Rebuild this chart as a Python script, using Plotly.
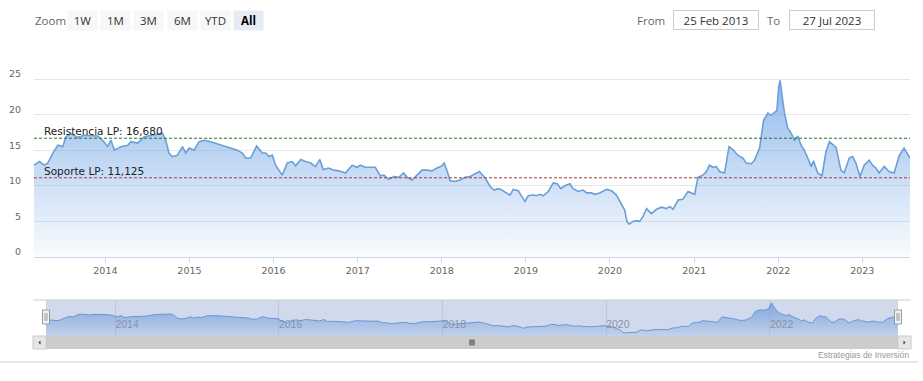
import plotly.graph_objects as go

W, H = 923, 381

# ---------------- data ----------------
dates = [
    "2013-02-25", "2013-03-20", "2013-04-11", "2013-04-26", "2013-05-18", "2013-06-08", "2013-06-30",
    "2013-07-14", "2013-08-05", "2013-09-03", "2013-10-02", "2013-10-30", "2013-11-28", "2013-12-20",
    "2014-01-11", "2014-01-25", "2014-02-09", "2014-03-09", "2014-04-08", "2014-04-22", "2014-05-21",
    "2014-06-19", "2014-07-17", "2014-08-15", "2014-09-06", "2014-09-20", "2014-10-04", "2014-10-19",
    "2014-11-10", "2014-12-02", "2014-12-16", "2014-12-31", "2015-01-21", "2015-02-12", "2015-03-05",
    "2015-04-03", "2015-05-02", "2015-05-31", "2015-06-29", "2015-07-28", "2015-08-19", "2015-09-02",
    "2015-09-24", "2015-10-05", "2015-10-20", "2015-11-13", "2015-11-28", "2015-12-12", "2015-12-27",
    "2016-01-10", "2016-02-08", "2016-03-01", "2016-03-23", "2016-04-06", "2016-04-28", "2016-05-19",
    "2016-06-10", "2016-07-02", "2016-07-20", "2016-08-04", "2016-08-28", "2016-09-19", "2016-10-11",
    "2016-11-08", "2016-12-08", "2016-12-29", "2017-01-12", "2017-02-03", "2017-02-25", "2017-03-18",
    "2017-04-09", "2017-04-24", "2017-05-15", "2017-06-06", "2017-06-28", "2017-07-19", "2017-08-03",
    "2017-08-25", "2017-09-15", "2017-10-07", "2017-10-28", "2017-11-19", "2017-12-11", "2018-01-01",
    "2018-01-11", "2018-01-23", "2018-02-06", "2018-02-28", "2018-03-21", "2018-04-12", "2018-05-04",
    "2018-05-26", "2018-06-13", "2018-07-08", "2018-07-30", "2018-08-16", "2018-09-04", "2018-09-18",
    "2018-10-10", "2018-10-24", "2018-11-07", "2018-11-29", "2018-12-20", "2018-12-28", "2019-01-11",
    "2019-02-02", "2019-02-16", "2019-03-03", "2019-03-17", "2019-04-08", "2019-04-30", "2019-05-17",
    "2019-06-01", "2019-06-19", "2019-07-11", "2019-07-25", "2019-08-16", "2019-09-07", "2019-09-21",
    "2019-10-13", "2019-10-27", "2019-11-18", "2019-12-17", "2020-01-08", "2020-01-29", "2020-02-20",
    "2020-03-05", "2020-03-15", "2020-03-24", "2020-04-10", "2020-04-25", "2020-05-09", "2020-05-24",
    "2020-06-08", "2020-06-29", "2020-07-21", "2020-08-12", "2020-09-03", "2020-09-17", "2020-10-01",
    "2020-10-23", "2020-11-13", "2020-12-05", "2020-12-20", "2021-01-03", "2021-01-17", "2021-02-08",
    "2021-02-23", "2021-03-08", "2021-03-23", "2021-04-07", "2021-04-21", "2021-05-13", "2021-06-01",
    "2021-06-18", "2021-07-09", "2021-07-31", "2021-08-15", "2021-09-06", "2021-09-20", "2021-10-12",
    "2021-10-29", "2021-11-17", "2021-12-01", "2021-12-16", "2021-12-26", "2022-01-03", "2022-01-09",
    "2022-01-18", "2022-01-28", "2022-02-11", "2022-02-26", "2022-03-12", "2022-03-27", "2022-04-10",
    "2022-04-24", "2022-05-09", "2022-05-24", "2022-06-03", "2022-06-21", "2022-07-10", "2022-07-27",
    "2022-08-11", "2022-08-28", "2022-09-09", "2022-09-30", "2022-10-14", "2022-11-05", "2022-11-20",
    "2022-12-04", "2022-12-22", "2023-01-09", "2023-01-31", "2023-02-14", "2023-03-01", "2023-03-15",
    "2023-04-06", "2023-04-27", "2023-05-19", "2023-06-10", "2023-07-01", "2023-07-27",
]
values = [
    12.9, 13.4, 12.9, 13.2, 14.6, 15.7, 15.5,
    16.9, 17.3, 16.8, 17.1, 17.1, 17.0, 16.4,
    15.5, 16.4, 15.0, 15.5, 15.7, 16.2, 16.0,
    16.9, 17.1, 17.3, 17.4, 16.4, 14.6, 14.1,
    14.3, 15.5, 14.6, 15.3, 15.0, 16.2, 16.4,
    16.2, 15.9, 15.5, 15.3, 15.0, 14.6, 13.9,
    13.9, 14.6, 15.6, 14.6, 14.6, 14.1, 14.3,
    12.9, 11.5, 13.2, 13.4, 12.8, 13.7, 13.4,
    13.2, 12.7, 13.7, 12.3, 12.5, 12.2, 12.1,
    11.8, 12.9, 12.6, 12.9, 12.6, 12.6, 12.6,
    11.4, 11.5, 10.9, 11.3, 11.2, 11.8, 11.2,
    10.8, 11.5, 12.2, 12.2, 12.1, 12.5, 12.8,
    13.2, 12.2, 10.7, 10.6, 10.8, 11.2, 11.3,
    11.7, 12.0, 11.1, 9.9, 9.4, 9.6, 9.4,
    9.0, 8.7, 9.5, 9.3, 8.2, 7.8, 8.6,
    8.7, 8.6, 8.8, 8.6, 9.2, 10.4, 10.3,
    9.6, 10.0, 10.3, 9.6, 9.2, 9.4, 9.0,
    9.0, 8.8, 9.0, 9.5, 9.3, 8.7, 7.5,
    6.6, 5.0, 4.6, 5.0, 5.1, 5.0, 5.7,
    6.8, 6.1, 6.7, 7.0, 6.8, 7.1, 6.7,
    8.0, 8.1, 9.2, 9.0, 8.8, 11.2, 11.5,
    12.0, 12.9, 12.6, 12.7, 12.0, 11.8, 15.5,
    15.1, 14.3, 13.9, 13.2, 13.1, 13.6, 15.3,
    19.2, 20.2, 19.9, 20.3, 20.6, 23.9, 24.8,
    22.5, 20.2, 18.1, 17.4, 16.4, 17.0, 15.7,
    15.0, 13.9, 12.7, 13.5, 11.8, 11.4, 14.8,
    16.2, 15.7, 15.4, 12.2, 11.8, 13.9, 14.1,
    13.2, 11.3, 12.9, 13.6, 12.9, 12.5, 11.8,
    12.7, 12.0, 11.8, 14.2, 15.3, 13.9,
]

RESISTENCIA = 16.680
SOPORTE = 11.125
resistencia_label = "Resistencia LP: 16,680"
soporte_label = "Soporte LP: 11,125"

y_tickvals = [0, 5, 10, 15, 20, 25, 30]
y_ticktext = ["0", "5", "10", "15", "20", "25", ""]

zoom_buttons = ["1W", "1M", "3M", "6M", "YTD", "All"]
from_text = "25 Feb 2013"
to_text = "27 Jul 2023"
credits_text = "Estrategias de Inversión"

# ---------------- helpers (pixel -> paper) ----------------
def px(x):
    return x / W

def py(y):
    return 1 - y / H

LINE = "#6a9fd8"
FILLSCALE = [[0, "rgba(124,172,232,0.04)"], [1, "rgba(124,172,232,1.0)"]]

fig = go.Figure()

fig.add_trace(go.Scatter(
    x=dates, y=values, mode="lines",
    line=dict(color=LINE, width=1.6),
    fill="tozeroy",
    fillgradient=dict(type="vertical", colorscale=FILLSCALE, start=0, stop=30),
    xaxis="x", yaxis="y", hoverinfo="skip", showlegend=False,
))

fig.add_trace(go.Scatter(
    x=dates, y=values, mode="lines",
    line=dict(color=LINE, width=1),
    fill="tozeroy",
    fillgradient=dict(type="vertical", colorscale=[[0, "rgba(124,172,232,0.15)"], [1, "rgba(124,172,232,0.95)"]], start=2.6, stop=26.8),
    xaxis="x2", yaxis="y2", hoverinfo="skip", showlegend=False,
))

AX_FONT = dict(family="DejaVu Sans", size=9.5, color="#666666")

fig.update_layout(
    width=W, height=H, autosize=False,
    margin=dict(l=0, r=0, t=0, b=0, pad=0, autoexpand=False),
    paper_bgcolor="white", plot_bgcolor="rgba(0,0,0,0)",
    showlegend=False,
    xaxis=dict(
        domain=[px(34), px(910)],
        range=[dates[0], dates[-1]],
        type="date",
        tick0="2014-01-01", dtick="M12", tickformat="%Y",
        showgrid=False, zeroline=False,
        showline=True, linecolor="#ccd6eb", linewidth=1,
        ticks="outside", ticklen=5, tickcolor="#ccd6eb",
        tickfont=AX_FONT, automargin=False,
        anchor="y",
    ),
    yaxis=dict(
        domain=[py(257), py(43.4)],
        range=[0, 30],
        tickvals=y_tickvals, ticktext=y_ticktext,
        showgrid=True, gridcolor="#e6e6e6", gridwidth=1,
        zeroline=False, showline=False,
        tickfont=AX_FONT,
        ticklabelshift=-5,
        ticklabelstandoff=12, automargin=False,
        anchor="x",
    ),
    xaxis2=dict(
        domain=[px(46), px(898)],
        range=[dates[0], dates[-1]],
        type="date",
        tick0="2014-01-01", dtick="M24", tickformat="%Y",
        showgrid=True, gridcolor="#e6e6e6",
        zeroline=False, showline=False,
        ticks="", ticklabelposition="inside right",
        tickfont=dict(family="Liberation Sans", size=10.5, color="#999999"),
        automargin=False,
        anchor="y2",
    ),
    yaxis2=dict(
        domain=[py(336), py(300)],
        range=[2.6, 26.8],
        showgrid=False, zeroline=False, showline=False,
        showticklabels=False, ticks="", automargin=False,
        anchor="x2",
    ),
)

shapes = []
# plot lines
shapes.append(dict(type="line", xref="x domain", yref="y", x0=0, x1=1, y0=RESISTENCIA, y1=RESISTENCIA,
                   line=dict(color="#1f7a1f", width=1, dash="3px,2px"), layer="above"))
shapes.append(dict(type="line", xref="x domain", yref="y", x0=0, x1=1, y0=SOPORTE, y1=SOPORTE,
                   line=dict(color="#a03a3a", width=1, dash="3px,2px"), layer="above"))

# navigator mask & outline
shapes.append(dict(type="rect", xref="x2 domain", yref="y2 domain", x0=0, x1=1, y0=0, y1=1,
                   fillcolor="rgba(102,133,194,0.3)", line=dict(width=0), layer="above"))
shapes.append(dict(type="line", xref="paper", yref="paper", x0=px(33), x1=px(911), y0=py(300), y1=py(300),
                   line=dict(color="#cccccc", width=1)))

# scrollbar
shapes.append(dict(type="rect", xref="paper", yref="paper", x0=px(33), x1=px(911), y0=py(349), y1=py(336),
                   fillcolor="#f2f2f2", line=dict(width=0)))
shapes.append(dict(type="rect", xref="paper", yref="paper", x0=px(46), x1=px(898), y0=py(349), y1=py(336),
                   fillcolor="#cccccc", line=dict(width=0)))
for x0, x1 in ((33, 46), (898, 911)):
    shapes.append(dict(type="rect", xref="paper", yref="paper", x0=px(x0), x1=px(x1), y0=py(349), y1=py(336),
                       fillcolor="#e6e6e6", line=dict(color="#cccccc", width=1)))
# arrows
shapes.append(dict(type="path", xref="paper", yref="paper",
                   path=f"M {px(38.5)} {py(342.5)} L {px(40.5)} {py(340.5)} L {px(40.5)} {py(344.5)} Z",
                   fillcolor="#333333", line=dict(width=0)))
shapes.append(dict(type="path", xref="paper", yref="paper",
                   path=f"M {px(905.5)} {py(342.5)} L {px(903.5)} {py(340.5)} L {px(903.5)} {py(344.5)} Z",
                   fillcolor="#333333", line=dict(width=0)))
# grip
for gx in (470, 472, 474):
    shapes.append(dict(type="line", xref="paper", yref="paper", x0=px(gx), x1=px(gx), y0=py(339.5), y1=py(345.5),
                       line=dict(color="#333333", width=1)))

# navigator handles
for hx in (46, 898):
    shapes.append(dict(type="rect", xref="paper", yref="paper", x0=px(hx - 3.5), x1=px(hx + 3.5),
                       y0=py(324), y1=py(310), fillcolor="#f2f2f2", line=dict(color="#999999", width=1), layer="above"))
    for lx in (hx - 1, hx + 1):
        shapes.append(dict(type="line", xref="paper", yref="paper", x0=px(lx), x1=px(lx), y0=py(313), y1=py(321),
                           line=dict(color="#999999", width=1), layer="above"))

# bottom separator
shapes.append(dict(type="line", xref="paper", yref="paper", x0=0, x1=px(918), y0=py(362), y1=py(362),
                   line=dict(color="#d0d0d0", width=1)))

fig.update_layout(shapes=shapes)

annotations = []
# plot line labels
annotations.append(dict(text=resistencia_label, xref="paper", yref="y", x=px(42), y=RESISTENCIA,
                        xanchor="left", yanchor="middle", yshift=7, showarrow=False,
                        font=dict(family="DejaVu Sans", size=10.5, color="#222222")))
annotations.append(dict(text=soporte_label, xref="paper", yref="y", x=px(42), y=SOPORTE,
                        xanchor="left", yanchor="middle", yshift=7, showarrow=False,
                        font=dict(family="DejaVu Sans", size=10.5, color="#222222")))

UI_FONT = "Open Sans"
# range selector
annotations.append(dict(text="Zoom", xref="paper", yref="paper", x=px(33), y=py(20.5),
                        xanchor="left", yanchor="middle", showarrow=False,
                        font=dict(family=UI_FONT, size=11.5, color="#666666")))
btn_centers = [82.5, 115, 148.5, 182.5, 215.5, 248.5]
for label, cx in zip(zoom_buttons, btn_centers):
    sel = label == "All"
    annotations.append(dict(
        text=f"<b>{label}</b>" if sel else label,
        xref="paper", yref="paper", x=px(cx), y=py(20.5),
        xanchor="center", yanchor="middle", showarrow=False,
        width=29, height=19, borderpad=0, align="center", valign="middle",
        bgcolor="#e6ebf5" if sel else "#f7f7f7",
        font=dict(family=UI_FONT, size=11.5, color="#000000" if sel else "#333333"),
    ))

# From / To inputs
annotations.append(dict(text="From", xref="paper", yref="paper", x=px(667), y=py(20.5),
                        xanchor="right", yanchor="middle", showarrow=False,
                        font=dict(family=UI_FONT, size=11.5, color="#666666")))
annotations.append(dict(text="To", xref="paper", yref="paper", x=px(782), y=py(20.5),
                        xanchor="right", yanchor="middle", showarrow=False,
                        font=dict(family=UI_FONT, size=11.5, color="#666666")))
for txt, cx in ((from_text, 716), (to_text, 832)):
    annotations.append(dict(
        text=txt, xref="paper", yref="paper", x=px(cx), y=py(20.5),
        xanchor="center", yanchor="middle", showarrow=False,
        width=84, height=18, borderpad=0, borderwidth=1, bordercolor="#cccccc",
        bgcolor="white", align="center", valign="middle",
        font=dict(family=UI_FONT, size=11.5, color="#333333"),
    ))

# credits
annotations.append(dict(text=credits_text, xref="paper", yref="paper", x=px(911), y=py(355),
                        xanchor="right", yanchor="middle", showarrow=False,
                        font=dict(family="Liberation Sans Narrow, Liberation Sans", size=8.5, color="#999999")))

fig.update_layout(annotations=annotations)

fig.write_html(
    "out.html",
    config={"displayModeBar": False, "responsive": False},
    post_script="document.body.style.margin='0';document.body.style.overflow='hidden';",
)
